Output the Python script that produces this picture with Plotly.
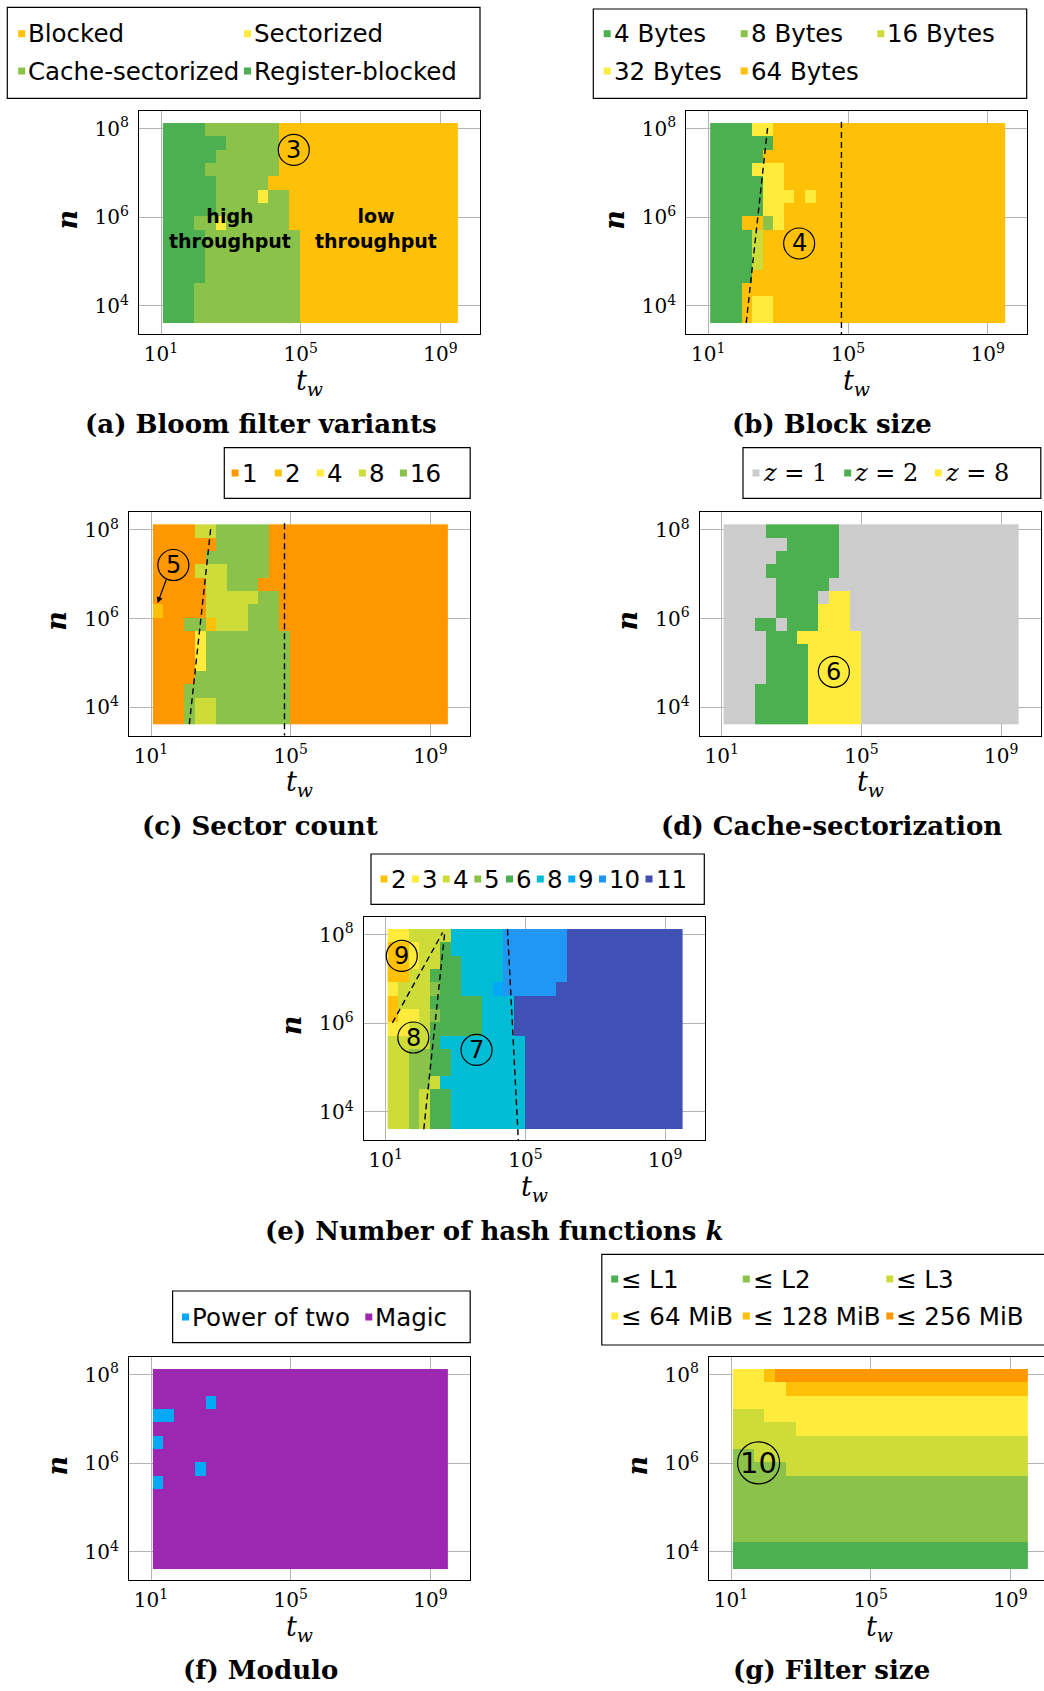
import math
import plotly.graph_objects as go

W, H = 1044, 1691

# ---------------- data ----------------
# t_w values (cell centres): powers of two 2^4 .. 2^31
TW = [2 ** k for k in range(4, 32)]
# n cell edges: 2^12 .. 2^27  (15 rows)
N_EDGES = [2 ** k for k in range(12, 28)]

X_TICKS = [1e1, 1e5, 1e9]
X_TICK_LABELS = ["10<sup>1</sup>", "10<sup>5</sup>", "10<sup>9</sup>"]
Y_TICKS = [1e4, 1e6, 1e8]
Y_TICK_LABELS = ["10<sup>4</sup>", "10<sup>6</sup>", "10<sup>8</sup>"]

# grids: one string per row, top row (largest n) first, "category:run-length"
A_CATS = ["Blocked", "Sectorized", "Cache-sectorized", "Register-blocked"]
A_GRID = [
    "Register-blocked:4 Cache-sectorized:7 Blocked:17",
    "Register-blocked:6 Cache-sectorized:5 Blocked:17",
    "Register-blocked:5 Cache-sectorized:6 Blocked:17",
    "Register-blocked:4 Cache-sectorized:7 Blocked:17",
    "Register-blocked:5 Cache-sectorized:5 Blocked:18",
    "Register-blocked:5 Cache-sectorized:4 Sectorized:1 Cache-sectorized:2 Blocked:16",
    "Register-blocked:5 Cache-sectorized:7 Blocked:16",
    "Register-blocked:3 Cache-sectorized:2 Sectorized:1 Cache-sectorized:6 Blocked:16",
    "Register-blocked:4 Cache-sectorized:9 Blocked:15",
    "Register-blocked:4 Cache-sectorized:9 Blocked:15",
    "Register-blocked:4 Cache-sectorized:9 Blocked:15",
    "Register-blocked:4 Cache-sectorized:9 Blocked:15",
    "Register-blocked:3 Cache-sectorized:10 Blocked:15",
    "Register-blocked:3 Cache-sectorized:10 Blocked:15",
    "Register-blocked:3 Cache-sectorized:10 Blocked:15",
]

B_CATS = ["4 Bytes", "8 Bytes", "16 Bytes", "32 Bytes", "64 Bytes"]
B_GRID = [
    "4:4 32:2 64:22",
    "4:6 64:22",
    "4:5 64:23",
    "4:4 32:3 64:21",
    "4:5 32:2 64:21",
    "4:5 32:3 64:1 32:1 64:18",
    "4:5 32:2 64:21",
    "4:3 64:2 8:1 32:1 64:21",
    "4:4 16:1 64:23",
    "4:4 16:1 64:23",
    "4:4 16:1 64:23",
    "4:4 64:24",
    "4:3 64:25",
    "4:3 64:1 32:2 64:22",
    "4:3 64:1 32:2 64:22",
]

C_CATS = ["1", "2", "4", "8", "16"]
C_GRID = [
    "1:4 8:2 16:5 1:17",
    "1:6 16:5 1:17",
    "1:5 16:6 1:17",
    "1:4 8:3 16:4 1:17",
    "1:5 8:2 16:3 1:18",
    "1:5 8:5 16:2 1:16",
    "2:1 1:4 8:4 16:3 1:16",
    "1:3 16:2 2:1 8:3 16:3 1:16",
    "1:4 4:1 16:8 1:15",
    "1:4 4:1 16:8 1:15",
    "1:4 4:1 16:8 1:15",
    "1:4 16:9 1:15",
    "1:3 16:10 1:15",
    "1:3 16:1 8:2 16:7 1:15",
    "1:3 16:1 8:2 16:7 1:15",
]

D_CATS = ["1", "2", "8"]  # z
D_GRID = [
    "1:4 2:7 1:17",
    "1:6 2:5 1:17",
    "1:5 2:6 1:17",
    "1:4 2:7 1:17",
    "1:5 2:5 1:18",
    "1:5 2:4 1:1 8:2 1:16",
    "1:5 2:4 8:3 1:16",
    "1:3 2:2 1:1 2:3 8:3 1:16",
    "1:4 2:3 8:6 1:15",
    "1:4 2:4 8:5 1:15",
    "1:4 2:4 8:5 1:15",
    "1:4 2:4 8:5 1:15",
    "1:3 2:5 8:5 1:15",
    "1:3 2:5 8:5 1:15",
    "1:3 2:5 8:5 1:15",
]

E_CATS = ["2", "3", "4", "5", "6", "8", "9", "10", "11"]
E_GRID = [
    "3:2 4:4 8:5 10:6 11:11",
    "2:2 3:1 4:2 6:1 8:5 10:6 11:11",
    "2:2 3:1 4:2 6:2 8:4 10:6 11:11",
    "2:2 4:2 6:3 8:4 10:6 11:11",
    "3:1 4:3 5:1 6:2 8:3 9:1 10:5 11:12",
    "2:1 4:3 6:5 8:3 11:16",
    "2:1 3:2 4:1 5:1 6:4 8:3 11:16",
    "3:2 4:2 6:5 8:3 11:16",
    "4:4 6:1 8:8 11:15",
    "4:2 5:2 6:2 8:7 11:15",
    "4:2 5:2 6:2 8:7 11:15",
    "4:2 5:2 4:1 8:8 11:15",
    "4:2 5:1 4:1 6:2 8:7 11:15",
    "4:2 5:1 4:1 6:2 8:7 11:15",
    "4:2 5:1 4:1 6:2 8:7 11:15",
]

F_CATS = ["Power of two", "Magic"]
F_GRID = [
    "Magic:28",
    "Magic:28",
    "Magic:5 Power of two:1 Magic:22",
    "Power of two:2 Magic:26",
    "Magic:28",
    "Power of two:1 Magic:27",
    "Magic:28",
    "Magic:4 Power of two:1 Magic:23",
    "Power of two:1 Magic:27",
    "Magic:28",
    "Magic:28",
    "Magic:28",
    "Magic:28",
    "Magic:28",
    "Magic:28",
]

G_CATS = ["L1", "L2", "L3", "64 MiB", "128 MiB", "256 MiB"]
G_GRID = [
    "64 MiB:3 128 MiB:1 256 MiB:24",
    "64 MiB:5 128 MiB:23",
    "64 MiB:28",
    "L3:3 64 MiB:25",
    "L3:6 64 MiB:22",
    "L3:28",
    "L2:2 L3:26",
    "L2:5 L3:23",
    "L2:28",
    "L2:28",
    "L2:28",
    "L2:28",
    "L2:28",
    "L1:28",
    "L1:28",
]

# ---------------- style ----------------
AMBER, YELLOW, LIME = "#FFC107", "#FFEB3B", "#CDDC39"
LGREEN, GREEN, ORANGE = "#8BC34A", "#4CAF50", "#FF9800"
CYAN, LBLUE, BLUE, INDIGO = "#00BCD4", "#03A9F4", "#2196F3", "#3F51B5"
PURPLE, GREY = "#9C27B0", "#CCCCCC"

A_COLORS = [AMBER, YELLOW, LGREEN, GREEN]
B_COLORS = [GREEN, LGREEN, LIME, YELLOW, AMBER]
C_COLORS = [ORANGE, AMBER, YELLOW, LIME, LGREEN]
D_COLORS = [GREY, GREEN, YELLOW]
E_COLORS = [AMBER, YELLOW, LIME, LGREEN, GREEN, CYAN, LBLUE, BLUE, INDIGO]
F_COLORS = [LBLUE, PURPLE]
G_COLORS = [GREEN, LGREEN, LIME, YELLOW, AMBER, ORANGE]

SANS = "DejaVu Sans"
SERIF = "DejaVu Serif"

# frame geometry in pixels (left, top) for each panel
FW, FH = 341.0, 223.6
X_RANGE = [0.37, 10.13]
Y_RANGE = [3.361, 8.406]
PANEL_POS = {
    "a": (139.0, 110.7),
    "b": (686.3, 110.7),
    "c": (129.0, 512.0),
    "d": (699.7, 512.0),
    "e": (363.7, 916.7),
    "f": (129.0, 1356.7),
    "g": (709.0, 1356.7),
}


def split_tokens(line):
    # tokens are "name:count" separated by spaces; names may contain spaces
    toks, cur = [], []
    for part in line.split(" "):
        cur.append(part)
        if ":" in part:
            toks.append(" ".join(cur))
            cur = []
    return toks


def parse_grid(grid, cats):
    rows = []
    for line in grid:
        row = []
        for tok in split_tokens(line):
            cat, cnt = tok.rsplit(":", 1)
            row += [cats.index(cat)] * int(cnt)
        assert len(row) == len(TW), (line, len(row))
        rows.append(row)
    return rows[::-1]  # bottom row first (ascending n)


def px(x):
    return x / W


def py(y):
    return 1 - y / H


fig = go.Figure()
shapes, annotations = [], []

panels = [
    ("a", A_GRID, A_CATS, A_COLORS),
    ("b", B_GRID, [c.split()[0] for c in B_CATS], B_COLORS),
    ("c", C_GRID, C_CATS, C_COLORS),
    ("d", D_GRID, D_CATS, D_COLORS),
    ("e", E_GRID, E_CATS, E_COLORS),
    ("f", F_GRID, F_CATS, F_COLORS),
    ("g", G_GRID, G_CATS, G_COLORS),
]

axis_ids = {}
for i, (key, grid, cats, colors) in enumerate(panels, start=1):
    sfx = "" if i == 1 else str(i)
    axis_ids[key] = ("x" + sfx, "y" + sfx)
    z = parse_grid(grid, cats)
    K = len(cats)
    cs = []
    for j, c in enumerate(colors):
        cs.append([j / K, c])
        cs.append([(j + 1) / K, c])
    fig.add_trace(go.Heatmap(
        x=[math.log10(t) for t in TW],
        y=[math.log10(n) for n in N_EDGES],
        z=z, colorscale=cs, zmin=-0.5, zmax=K - 0.5,
        showscale=False, hoverinfo="skip",
        xaxis="x" + sfx, yaxis="y" + sfx,
    ))
    x0, y0 = PANEL_POS[key]
    x1 = min(x0 + FW, W)
    xr = [X_RANGE[0], X_RANGE[0] + (x1 - x0) / FW * (X_RANGE[1] - X_RANGE[0])]
    common = dict(
        showgrid=True, gridcolor="#b4b4b4", gridwidth=1,
        showline=True, mirror=True, linecolor="black", linewidth=1.3,
        zeroline=False, ticks="", fixedrange=True,
        tickfont=dict(family=SERIF, size=20, color="black"),
    )
    fig.update_layout(**{
        "xaxis" + sfx: dict(
            domain=[px(x0), px(x1)], range=xr, anchor="y" + sfx,
            tickvals=[math.log10(v) for v in X_TICKS], ticktext=X_TICK_LABELS,
            ticklabelstandoff=2, **common),
        "yaxis" + sfx: dict(
            domain=[py(y0 + FH), py(y0)], range=Y_RANGE, anchor="x" + sfx,
            tickvals=[math.log10(v) for v in Y_TICKS], ticktext=Y_TICK_LABELS,
            ticklabelstandoff=5, **common),
    })
    # axis titles
    annotations.append(dict(
        x=px(x0 + FW / 2), y=py(y0 + FH + 48), xref="paper", yref="paper",
        text="<i>t<sub>w</sub></i>", showarrow=False,
        font=dict(family=SERIF, size=27, color="black"),
        xanchor="center", yanchor="middle"))
    annotations.append(dict(
        x=px(x0 - 72), y=py(y0 + FH / 2 - 3), xref="paper", yref="paper",
        text="<b><i>n</i></b>", showarrow=False, textangle=-90,
        font=dict(family=SERIF, size=27, color="black"),
        xanchor="center", yanchor="middle"))

# captions
CAPTIONS = [
    ("(a) Bloom filter variants", 261, 424),
    ("(b) Block size", 831.5, 424),
    ("(c) Sector count", 260, 826),
    ("(d) Cache-sectorization", 831.5, 826),
    ("(e) Number of hash functions <i>k</i>", 494, 1231),
    ("(f) Modulo", 260, 1670),
    ("(g) Filter size", 831.5, 1670),
]
for text, cx, cy in CAPTIONS:
    annotations.append(dict(
        x=px(cx), y=py(cy), xref="paper", yref="paper",
        text="<b>" + text + "</b>", showarrow=False,
        font=dict(family=SERIF, size=26, color="black"),
        xanchor="center", yanchor="middle"))


# legends
def legend(box, entries, font_family=SANS, size=24.5, msize=7):
    bx0, by0, bx1, by1 = box
    shapes.append(dict(type="rect", xref="paper", yref="paper",
                       x0=px(bx0), x1=px(bx1), y0=py(by1), y1=py(by0),
                       line=dict(color="black", width=1.2), fillcolor="white", layer="above"))
    for mx, my, text, color in entries:
        shapes.append(dict(type="rect", xref="paper", yref="paper",
                           x0=px(mx - msize / 2), x1=px(mx + msize / 2),
                           y0=py(my + msize / 2), y1=py(my - msize / 2),
                           line=dict(width=0), fillcolor=color, layer="above"))
        annotations.append(dict(
            x=px(mx + msize / 2 + 1), y=py(my), xref="paper", yref="paper",
            text=text, showarrow=False, xanchor="left", yanchor="middle",
            font=dict(family=font_family, size=size, color="black")))


legend((7.3, 7.3, 480, 98.3), [
    (21.7, 33.7, A_CATS[0], A_COLORS[0]),
    (247.5, 33.7, A_CATS[1], A_COLORS[1]),
    (21.7, 71.0, A_CATS[2], A_COLORS[2]),
    (247.5, 71.0, A_CATS[3], A_COLORS[3]),
])
legend((593.3, 9, 1026.7, 98.3), [
    (607.2, 33.7, B_CATS[0], B_COLORS[0]),
    (744.2, 33.7, B_CATS[1], B_COLORS[1]),
    (880.8, 33.7, B_CATS[2], B_COLORS[2]),
    (607.2, 71.0, B_CATS[3], B_COLORS[3]),
    (744.2, 71.0, B_CATS[4], B_COLORS[4]),
])
legend((224.3, 447.6, 470.2, 498.3), [
    (mx, 473, C_CATS[j], C_COLORS[j])
    for j, mx in enumerate([235.1, 278.3, 320.3, 362.4, 403.4])
])
legend((743, 447.6, 1040.8, 498.3), [
    (mx, 473, "<i>z</i> = " + D_CATS[j], D_COLORS[j])
    for j, mx in enumerate([756, 847.7, 938.3])
], font_family=SERIF, size=24)
legend((371, 854, 704.3, 904.3), [
    (mx, 879, E_CATS[j], E_COLORS[j])
    for j, mx in enumerate([384, 415.5, 446.3, 477.8, 509.5, 540.3, 571.8, 602.5, 649])
])
legend((172.6, 1291, 470.2, 1342.7), [
    (185.5, 1317, F_CATS[0], F_COLORS[0]),
    (368.8, 1317, F_CATS[1], F_COLORS[1]),
])
legend((601.8, 1254.3, 1060, 1345), [
    (614.7, 1279, "≤ " + G_CATS[0], G_COLORS[0]),
    (746.3, 1279, "≤ " + G_CATS[1], G_COLORS[1]),
    (889.8, 1279, "≤ " + G_CATS[2], G_COLORS[2]),
    (614.7, 1316, "≤ " + G_CATS[3], G_COLORS[3]),
    (746.3, 1316, "≤ " + G_CATS[4], G_COLORS[4]),
    (889.8, 1316, "≤ " + G_CATS[5], G_COLORS[5]),
])


# circled markers (data coordinates)
def circled(key, cx, cy, label, r=15.5, size=24):
    xa, ya = axis_ids[key]
    shapes.append(dict(type="circle", xref=xa, yref=ya,
                       xsizemode="pixel", ysizemode="pixel",
                       xanchor=cx, yanchor=cy, x0=-r, x1=r, y0=-r, y1=r,
                       line=dict(color="black", width=1.2), layer="above"))
    annotations.append(dict(x=cx, y=cy, xref=xa, yref=ya, text=label,
                            showarrow=False, xanchor="center", yanchor="middle",
                            font=dict(family=SANS, size=size, color="black")))


circled("a", 4.80, 7.52, "3")
circled("b", 3.60, 5.41, "4")
circled("c", 1.64, 7.21, "5")
circled("d", 4.21, 4.80, "6")
circled("e", 1.46, 7.52, "9")
circled("e", 1.79, 5.68, "8")
circled("e", 3.60, 5.40, "7")
circled("g", 1.79, 6.01, "10", r=21, size=29)

# arrow for 5
annotations.append(dict(x=1.19, y=6.35, ax=1.45, ay=6.91, xref="x3", yref="y3",
                        axref="x3", ayref="y3", text="", showarrow=True,
                        arrowhead=2, arrowsize=1, arrowwidth=1.2, arrowcolor="black"))

# region labels in (a)
for cx, text in [(2.98, "high<br>throughput"), (7.15, "low<br>throughput")]:
    annotations.append(dict(x=cx, y=5.75, xref="x", yref="y", text="<b>" + text + "</b>",
                            showarrow=False, xanchor="center", yanchor="middle",
                            font=dict(family=SANS, size=19, color="black")))


# dashed guide lines (data coordinates)
def dashed(key, xa0, ya0, xa1, ya1):
    xa, ya = axis_ids[key]
    shapes.append(dict(type="line", xref=xa, yref=ya, x0=xa0, y0=ya0, x1=xa1, y1=ya1,
                       line=dict(color="black", width=1.4, dash="6px,4px"), layer="above"))


dashed("b", 2.085, 3.62, 2.70, 8.045)
dashed("b", 4.81, 8.15, 4.81, 3.30)
dashed("c", 2.097, 3.62, 2.71, 8.04)
dashed("c", 4.82, 8.15, 4.82, 3.30)
dashed("e", 1.19, 6.01, 2.63, 8.05)
dashed("e", 2.09, 3.61, 2.69, 8.05)
dashed("e", 4.486, 8.12, 4.80, 3.30)

fig.update_layout(
    width=W, height=H, margin=dict(l=0, r=0, t=0, b=0),
    paper_bgcolor="white", plot_bgcolor="white",
    showlegend=False, shapes=shapes, annotations=annotations,
)
fig.write_html("out.html")
